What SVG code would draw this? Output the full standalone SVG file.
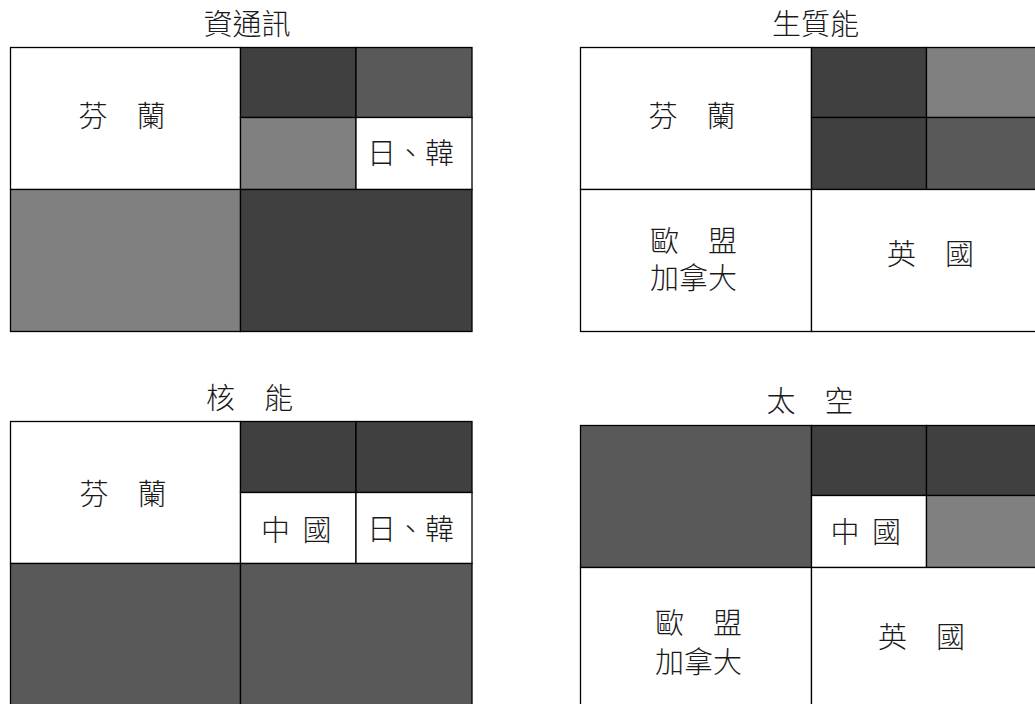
<svg xmlns="http://www.w3.org/2000/svg" width="1035" height="704" viewBox="0 0 1035 704">
<style>
  .c rect { stroke: #000; stroke-width: 1.3; }
  .w { fill: #ffffff; }
  .d1 { fill: #404040; }
  .d2 { fill: #595959; }
  .d3 { fill: #808080; }
  text { font-family: "Liberation Serif", "Noto Sans CJK TC", "Noto Sans CJK SC", sans-serif; font-size: 29px; font-weight: 300; fill: #1a1a1a; text-anchor: middle; }
</style>
<rect x="0" y="0" width="1035" height="704" fill="#ffffff"/>

<!-- Panel 1: 資通訊 -->
<g id="panel-ict">
  <text id="title-ict" x="247" y="35">資通訊</text>
  <g id="ict-finland" class="c"><rect class="w" x="10.5" y="47.5" width="230" height="142"/><text x="122" y="127">芬　蘭</text></g>
  <g id="ict-tr1" class="c"><rect class="d1" x="240.5" y="47.5" width="115.5" height="70"/></g>
  <g id="ict-tr2" class="c"><rect class="d2" x="356" y="47.5" width="116" height="70"/></g>
  <g id="ict-mr1" class="c"><rect class="d3" x="240.5" y="117.5" width="115.5" height="72"/></g>
  <g id="ict-jk" class="c"><rect class="w" x="356" y="117.5" width="116" height="72"/><text x="410.5" y="163.5">日、韓</text></g>
  <g id="ict-bl" class="c"><rect class="d3" x="10.5" y="189.5" width="230" height="142"/></g>
  <g id="ict-br" class="c"><rect class="d1" x="240.5" y="189.5" width="231.5" height="142"/></g>
</g>

<!-- Panel 2: 生質能 -->
<g id="panel-bio">
  <text id="title-bio" x="815.5" y="34.5">生質能</text>
  <g id="bio-finland" class="c"><rect class="w" x="580.5" y="47.5" width="231" height="142"/><text x="692" y="126.5">芬　蘭</text></g>
  <g id="bio-tr1" class="c"><rect class="d1" x="811.5" y="47.5" width="115" height="70"/></g>
  <g id="bio-tr2" class="c"><rect class="d3" x="926.5" y="47.5" width="116" height="70"/></g>
  <g id="bio-mr1" class="c"><rect class="d1" x="811.5" y="117.5" width="115" height="72"/></g>
  <g id="bio-mr2" class="c"><rect class="d2" x="926.5" y="117.5" width="116" height="72"/></g>
  <g id="bio-eu" class="c"><rect class="w" x="580.5" y="189.5" width="231" height="142"/><text x="693.5" y="251.5">歐　盟</text><text x="693.5" y="289">加拿大</text></g>
  <g id="bio-uk" class="c"><rect class="w" x="811.5" y="189.5" width="231" height="142"/><text x="930.5" y="265">英　國</text></g>
</g>

<!-- Panel 3: 核能 -->
<g id="panel-nuclear">
  <text id="title-nuclear" x="249.5" y="409">核　能</text>
  <g id="nuc-finland" class="c"><rect class="w" x="10.5" y="421.5" width="230" height="142"/><text x="123" y="505">芬　蘭</text></g>
  <g id="nuc-tr1" class="c"><rect class="d1" x="240.5" y="421.5" width="115.5" height="71"/></g>
  <g id="nuc-tr2" class="c"><rect class="d1" x="356" y="421.5" width="116" height="71"/></g>
  <g id="nuc-china" class="c"><rect class="w" x="240.5" y="492.5" width="115.5" height="71"/><text y="540.5"><tspan x="275.5">中</tspan><tspan x="317">國</tspan></text></g>
  <g id="nuc-jk" class="c"><rect class="w" x="356" y="492.5" width="116" height="71"/><text x="410.5" y="540">日、韓</text></g>
  <g id="nuc-bl" class="c"><rect class="d2" x="10.5" y="563.5" width="230" height="145"/></g>
  <g id="nuc-br" class="c"><rect class="d2" x="240.5" y="563.5" width="231.5" height="145"/></g>
</g>

<!-- Panel 4: 太空 -->
<g id="panel-space">
  <text id="title-space" x="810" y="412">太　空</text>
  <g id="sp-tl" class="c"><rect class="d2" x="580.5" y="425.5" width="231" height="142"/></g>
  <g id="sp-tr1" class="c"><rect class="d1" x="811.5" y="425.5" width="115" height="70"/></g>
  <g id="sp-tr2" class="c"><rect class="d1" x="926.5" y="425.5" width="116" height="70"/></g>
  <g id="sp-china" class="c"><rect class="w" x="811.5" y="495.5" width="115" height="72"/><text y="543"><tspan x="845">中</tspan><tspan x="886.5">國</tspan></text></g>
  <g id="sp-mr2" class="c"><rect class="d3" x="926.5" y="495.5" width="116" height="72"/></g>
  <g id="sp-eu" class="c"><rect class="w" x="580.5" y="567.5" width="231" height="145"/><text x="698.5" y="634">歐　盟</text><text x="698.5" y="672.5">加拿大</text></g>
  <g id="sp-uk" class="c"><rect class="w" x="811.5" y="567.5" width="231" height="145"/><text x="921.5" y="648">英　國</text></g>
</g>
</svg>
